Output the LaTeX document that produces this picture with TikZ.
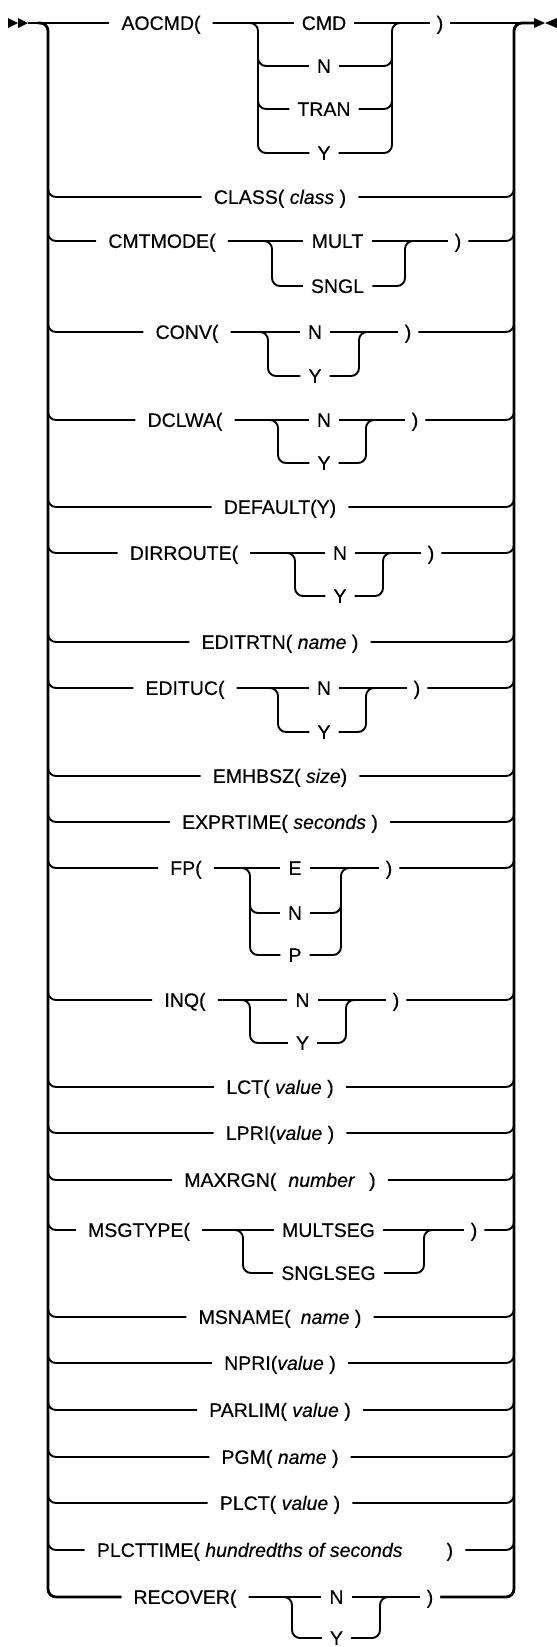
\documentclass[tikz,border=0pt]{standalone}
\usepackage{fontspec}
\setmainfont{Liberation Sans}[FakeBold=0.35]
\begin{document}
\begin{tikzpicture}[
    x=1pt, y=-1pt,
    font=\fontsize{19.5}{22}\selectfont,
    %% Main rails (left and right verticals)
    rail/.style={line width=2.8pt, rounded corners=8pt},
    %% Horizontal tracks and option brackets
    track/.style={line width=1.9pt, rounded corners=8pt},
    %% Keyword / option / closing paren
    kw/.style={inner xsep=12pt, inner ysep=2pt, text height=13.8pt, text depth=0pt},
    opt/.style={inner xsep=8pt, inner ysep=2pt, text height=13.8pt, text depth=0pt},
    paren/.style={inner xsep=7pt, inner ysep=2pt, text height=13.8pt, text depth=0pt}
]
\useasboundingbox (0,0) rectangle (557,1647);

%% ══════════════════════════════════════════════════════════════════
%% Entry / exit
%% ══════════════════════════════════════════════════════════════════
\coordinate (in)   at (28,23);
\coordinate (out)  at (534,23);
\coordinate (ltop) at (38,23);
\coordinate (lbot) at (48,1597);
\coordinate (rtop) at (514,23);

\fill (in) -- ++(-10,-5) -- ++(0,10) -- cycle;
\fill ([xshift=-10pt]in) -- ++(-10,-5) -- ++(0,10) -- cycle;
\fill (out) -- ++(0,-5) -- ++(11,5) -- ++(-11,5) -- cycle;
\fill ([xshift=23pt]out) -- ++(0,-5) -- ++(-12,5) -- ++(12,5) -- cycle;

%% ══════════════════════════════════════════════════════════════════
%% AOCMD( -- four options, on the main line
%% ══════════════════════════════════════════════════════════════════
\node[kw] (aocmd) at (161,23) {AOCMD(};
\node[opt] (aocmd-cmd) at (324,23) {CMD};
\node[opt] (aocmd-n) at (324,66) {N};
\node[opt] (aocmd-tran) at (324,109) {TRAN};
\node[opt] (aocmd-y) at (324,153) {Y};
\node[paren] (aocmd-c) at (440,23) {)};

\draw[track] (in) -- (aocmd) -- (aocmd-cmd) -- (aocmd-c) -- (out);
\draw[track] (aocmd) -| (258,153) -- (aocmd-y);
\draw[track] (aocmd-y) -| (392,23) -- (aocmd-c);
\foreach \o/\y in {aocmd-n/66, aocmd-tran/109} {
    \draw[track] (258,\y-14) |- (\o);
    \draw[track] (\o) -| (392,\y-14);
}

%% ══════════════════════════════════════════════════════════════════
%% FP( -- three options
%% ══════════════════════════════════════════════════════════════════
\node[kw] (fp) at (186,868) {FP(};
\node[opt] (fp-e) at (295,868) {E};
\node[opt] (fp-n) at (295,913) {N};
\node[opt] (fp-p) at (295,955) {P};
\node[paren] (fp-c) at (389,868) {)};

\draw[track] (48,854) |- (fp);
\draw[track] (fp) -- (fp-e) -- (fp-c);
\draw[track] (fp-c) -| (514,854);
\draw[track] (fp) -| (250,955) -- (fp-p);
\draw[track] (fp-p) -| (341,868) -- (fp-c);
\draw[track] (250,899) |- (fp-n);
\draw[track] (fp-n) -| (341,899);

%% ══════════════════════════════════════════════════════════════════
%% Two-way choices
%% name/keyword/y/y2/keyword x/left bracket/option x/right bracket/paren x/first/second
%% ══════════════════════════════════════════════════════════════════
\foreach \n/\k/\ya/\yb/\kx/\lx/\ox/\rx/\px/\oa/\ob in {
    cmtmode/CMTMODE(/241/286/162/272/337.5/405/458/MULT/SNGL,
    conv/CONV(/332/376/187/268/315/359/408/N/Y,
    dclwa/DCLWA(/420/463/185/278/324/366/415/N/Y,
    dirroute/DIRROUTE(/553/596/184/295/340/383/431/N/Y,
    edituc/EDITUC(/688/732/185/278/324/366/417/N/Y,
    inq/INQ(/1000/1043/185/250/302.5/346/396/N/Y,
    msgtype/MSGTYPE(/1230/1273/139/243/328.5/424/474/MULTSEG/SNGLSEG,
    recover/RECOVER(/1597/1638/185/292/336.5/380/430/N/Y} {
    \node[kw] (\n) at (\kx,\ya) {\k};
    \node[opt] (\n-a) at (\ox,\ya) {\oa};
    \node[opt] (\n-b) at (\ox,\yb) {\ob};
    \node[paren] (\n-c) at (\px,\ya) {)};
    \draw[track] (48,\ya-14) |- (\n);
    \draw[track] (\n) -- (\n-a) -- (\n-c);
    \draw[track] (\n-c) -| (514,\ya-14);
    \draw[track] (\n) -| (\lx,\yb) -- (\n-b);
    \draw[track] (\n-b) -| (\rx,\ya) -- (\n-c);
}

%% ══════════════════════════════════════════════════════════════════
%% Single keywords
%% ══════════════════════════════════════════════════════════════════
\foreach \n/\px/\y/\t in {
    class/280/197/{CLASS( \textit{class} )},
    default/280/507/{DEFAULT(Y)\hspace{20pt}},
    editrtn/280/642/{EDITRTN( \textit{name} )},
    emhbsz/280/776/{EMHBSZ( \textit{size})},
    exprtime/280/822/{EXPRTIME( \textit{seconds} )},
    lct/280/1087/{LCT( \textit{value} )},
    lpri/280/1133/{LPRI(\textit{value} )},
    maxrgn/280/1180/{MAXRGN(\hspace{12pt}\textit{number}\hspace{14pt})},
    msname/280/1317/{MSNAME(\hspace{10pt}\textit{name} )},
    npri/280/1363/{NPRI(\textit{value} )},
    parlim/280/1410/{PARLIM( \textit{value} )},
    pgm/280/1457/{PGM( \textit{name} )},
    plct/280/1503/{PLCT( \textit{value} )},
    plcttime/275/1550/{PLCTTIME( \textit{hundredths of seconds}\hspace{44pt})}} {
    \node[kw] (\n) at (\px,\y) {\t};
    \draw[track] (48,\y-14) |- (\n);
    \draw[track] (\n) -| (514,\y-14);
}

%% ══════════════════════════════════════════════════════════════════
%% Rails
%% ══════════════════════════════════════════════════════════════════
\draw[rail] (ltop) -| (lbot) -- (recover);
\draw[rail] (recover-c) -| (rtop) -- (out);

\end{tikzpicture}
\end{document}
